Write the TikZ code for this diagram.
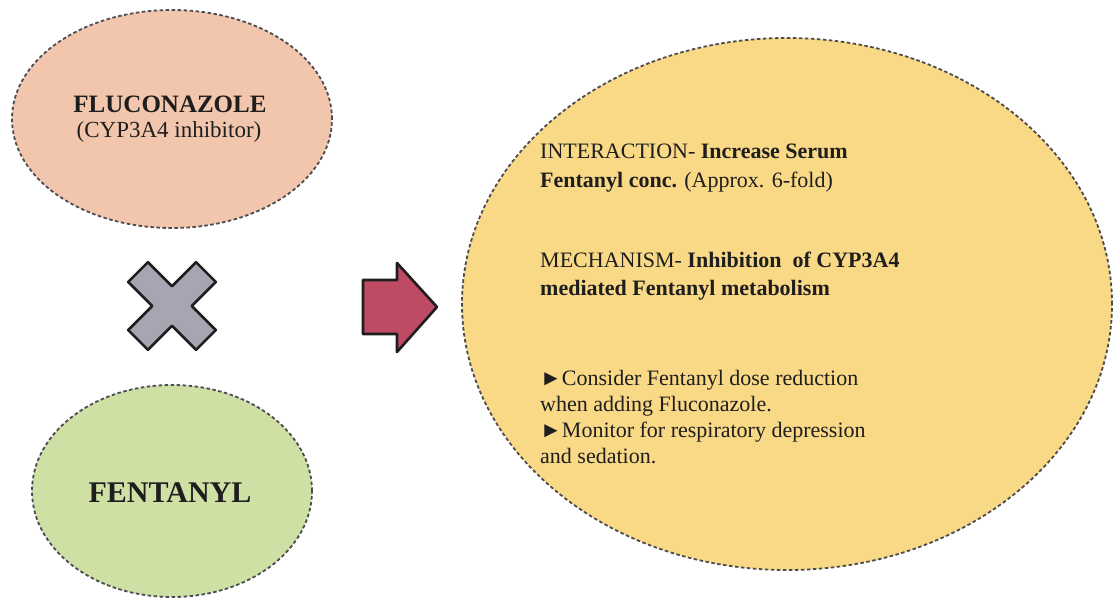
\documentclass[tikz,border=0pt]{standalone}
\usepackage{fontspec}
\setmainfont{Liberation Serif}
\usetikzlibrary{shapes.geometric,calc}
\definecolor{peach}{RGB}{242,198,172}
\definecolor{leaf}{RGB}{206,224,164}
\definecolor{sun}{RGB}{249,216,134}
\definecolor{crossgray}{RGB}{168,164,178}
\definecolor{berry}{RGB}{190,74,100}
\definecolor{edge}{RGB}{75,75,82}
\definecolor{ink}{RGB}{30,30,30}
\tikzset{
  drug/.style={ellipse, draw=edge, line width=1.8pt, dash pattern=on 3.5pt off 2.5pt, inner sep=0pt},
  line/.style={anchor=base west, inner sep=0pt, text=ink, font=\fontsize{22}{26}\selectfont},
  symb/.style={draw=ink, line width=2.6pt, line join=round},
}
\begin{document}
\begin{tikzpicture}[x=1pt,y=-1pt]
\useasboundingbox (0,0) rectangle (1116,599);
\fill[white] (0,0) rectangle (1116,599);
% ellipses
\node[drug, fill=peach, minimum width=320pt, minimum height=218pt] (fluc) at (172,119) {};
\node[drug, fill=leaf, minimum width=280pt, minimum height=212pt] (fent) at (172,491) {};
\node[drug, fill=sun, minimum width=650pt, minimum height=532pt] (inter) at (787,304) {};
% labels in left ellipses
\node[anchor=base, inner sep=0pt, text=ink, font=\fontsize{25}{28}\selectfont\bfseries] (flucname) at (170,113) {FLUCONAZOLE};
\node[anchor=base, inner sep=0pt, text=ink, font=\fontsize{23}{28}\selectfont] (flucrole) at (169,138) {(CYP3A4 inhibitor)};
\node[anchor=base, inner sep=0pt, text=ink, font=\fontsize{30}{34}\selectfont\bfseries] (fentname) at (170,502) {FENTANYL};
% cross
\coordinate (xc) at (172,306);
\draw[symb, fill=crossgray, rotate around={45:(xc)}]
  ($(xc)+(-14,-48)$) -- ++(28,0) -- ++(0,34) -- ++(34,0) -- ++(0,28) -- ++(-34,0) -- ++(0,34)
  -- ++(-28,0) -- ++(0,-34) -- ++(-34,0) -- ++(0,-28) -- ++(34,0) -- cycle;
% arrow
\coordinate (ar) at (363,307);
\draw[symb, fill=berry] (ar) ++(0,-27) -- ++(34,0) -- ++(0,-17) -- ++(40,44) -- ++(-40,45) -- ++(0,-18) -- ++(-34,0) -- cycle;
% right text
\node[line] (l1) at (540,158) {INTERACTION- \textbf{Increase Serum}};
\node[line] (l2) at (540,187) {\textbf{Fentanyl conc.} (Approx. 6-fold)};
\node[line] (l3) at (540,267) {MECHANISM- \textbf{Inhibition~ of CYP3A4}};
\node[line] (l4) at (540,295) {\textbf{mediated Fentanyl metabolism}};
\node[line] (l5) at (540,385) {►Consider Fentanyl dose reduction};
\node[line] (l6) at (540,411) {when adding Fluconazole.};
\node[line] (l7) at (540,437) {►Monitor for respiratory depression};
\node[line] (l8) at (540,463) {and sedation.};
\end{tikzpicture}
\end{document}
